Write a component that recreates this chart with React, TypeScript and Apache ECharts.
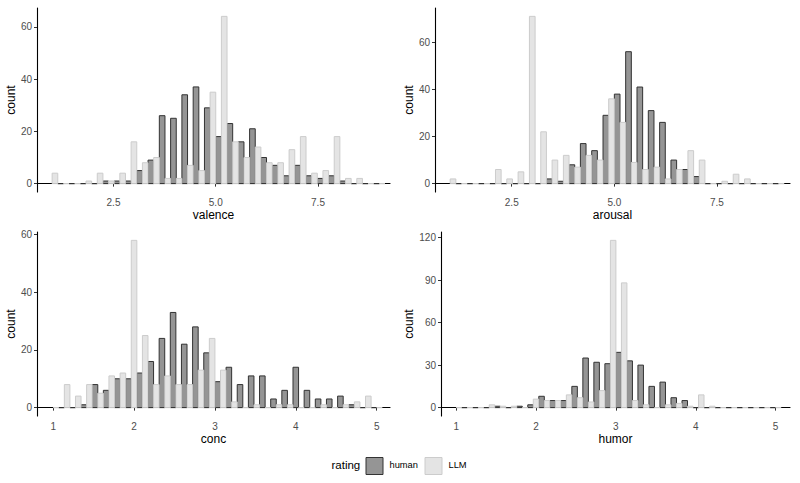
import React, { useEffect, useRef } from "react";
import * as echarts from "echarts";

// Histogram counts per bin (30 bins spanning the rating range), dodged by rater.
// The first human bin has no bar.
const BIN_COUNT = 30;

const VALENCE_RANGE = [1, 9];
const VALENCE_HUMAN = [null, 0, 0, 0, 0, 1, 1, 1, 5, 9, 26, 25, 34, 37, 29, 18, 23, 16, 21, 10, 7, 3, 7, 3, 2, 3, 1, 0, 0, 0];
const VALENCE_LLM = [4, 0, 0, 1, 4, 1, 4, 16, 8, 10, 2, 2, 7, 5, 35, 64, 16, 10, 14, 8, 8, 13, 18, 4, 5, 18, 2, 2, 0, 0];

const AROUSAL_RANGE = [1, 9];
const AROUSAL_HUMAN = [null, 0, 0, 0, 0, 0, 0, 0, 0, 2, 1, 8, 17, 14, 29, 38, 56, 41, 31, 26, 10, 6, 3, 0, 0, 0, 0, 0, 0, 0];
const AROUSAL_LLM = [2, 0, 0, 0, 6, 2, 5, 71, 22, 10, 12, 7, 12, 10, 36, 26, 9, 6, 7, 2, 6, 14, 10, 0, 1, 4, 2, 0, 0, 0];

const CONC_RANGE = [1, 5];
const CONC_HUMAN = [null, 0, 0, 1, 8, 6, 10, 10, 12, 16, 24, 33, 22, 28, 19, 9, 14, 8, 11, 11, 3, 6, 14, 6, 3, 3, 4, 1, 0, 0];
const CONC_LLM = [0, 8, 4, 8, 5, 11, 12, 58, 25, 8, 11, 8, 8, 13, 24, 13, 2, 0, 1, 0, 1, 1, 0, 0, 1, 0, 1, 2, 4, 0];

const HUMOR_RANGE = [1, 5];
const HUMOR_HUMAN = [null, 0, 0, 0, 1, 0, 1, 2, 8, 5, 5, 15, 35, 32, 31, 39, 33, 30, 15, 18, 7, 5, 0, 0, 0, 0, 0, 0, 0, 0];
const HUMOR_LLM = [0, 0, 0, 2, 1, 1, 0, 6, 5, 5, 9, 7, 4, 12, 118, 88, 5, 2, 0, 2, 3, 1, 9, 1, 0, 0, 0, 0, 0, 0];

// Tick labels
const X_TICKS_NINE = [2.5, 5, 7.5];
const X_TICKS_FIVE = [1, 2, 3, 4, 5];
const Y_TICKS_60 = [0, 20, 40, 60];
const Y_TICKS_120 = [0, 30, 60, 90, 120];

const GROUPS = ["human", "LLM"];

const FONT = "'Liberation Sans', Arial, Helvetica, sans-serif";
const HUMAN_FILL = "#959595";
const HUMAN_STROKE = "#333333";
const LLM_FILL = "#e4e4e4";
const LLM_STROKE = "#cccccc";

type Panel = {
  title: string;
  range: number[];
  human: (number | null)[];
  llm: (number | null)[];
  xTicks: number[];
  yTicks: number[];
  xDecimals: number;
  xMin: number;
  xMax: number;
  grid: { left: number; top: number; width: number; height: number };
};

const PANELS: Panel[] = [
  {
    title: "valence", range: VALENCE_RANGE, human: VALENCE_HUMAN, llm: VALENCE_LLM,
    xTicks: X_TICKS_NINE, yTicks: Y_TICKS_60, xDecimals: 1, xMin: 0.63, xMax: 9.26,
    grid: { left: 37, top: 8, width: 353, height: 184 },
  },
  {
    title: "arousal", range: AROUSAL_RANGE, human: AROUSAL_HUMAN, llm: AROUSAL_LLM,
    xTicks: X_TICKS_NINE, yTicks: Y_TICKS_60, xDecimals: 1, xMin: 0.63, xMax: 9.28,
    grid: { left: 435, top: 8, width: 355, height: 184 },
  },
  {
    title: "conc", range: CONC_RANGE, human: CONC_HUMAN, llm: CONC_LLM,
    xTicks: X_TICKS_FIVE, yTicks: Y_TICKS_60, xDecimals: 0, xMin: 0.8, xMax: 5.165,
    grid: { left: 37, top: 232, width: 353, height: 184 },
  },
  {
    title: "humor", range: HUMOR_RANGE, human: HUMOR_HUMAN, llm: HUMOR_LLM,
    xTicks: X_TICKS_FIVE, yTicks: Y_TICKS_120, xDecimals: 0, xMin: 0.81, xMax: 5.18,
    grid: { left: 441, top: 232, width: 349, height: 184 },
  },
];

function binData(range: number[], counts: (number | null)[]) {
  const width = (range[1] - range[0]) / (BIN_COUNT - 1);
  const out: number[][] = [];
  counts.forEach((c, k) => {
    if (c === null) return;
    out.push([range[0] + k * width, c]);
  });
  return out;
}

function barRenderer(from: number, to: number, fill: string, stroke: string) {
  return (_params: any, api: any) => {
    const center = api.value(0);
    const count = api.value(1);
    const a = api.coord([center + from, 0]);
    const b = api.coord([center + to, count]);
    return {
      type: "rect",
      shape: { x: a[0], y: b[1], width: b[0] - a[0], height: a[1] - b[1] },
      style: { fill, stroke, lineWidth: 1 },
    };
  };
}

function buildOption() {
  const grid: any[] = [];
  const xAxis: any[] = [];
  const yAxis: any[] = [];
  const series: any[] = [];

  PANELS.forEach((p, i) => {
    grid.push({ ...p.grid, containLabel: false });
    const maxCount = Math.max(
      ...p.human.map((v) => v ?? 0),
      ...p.llm.map((v) => v ?? 0)
    );
    xAxis.push({
      type: "value",
      gridIndex: i,
      min: p.xMin,
      max: p.xMax,
      name: p.title,
      nameLocation: "middle",
      nameGap: 17,
      nameTextStyle: { color: "#000", fontSize: 12, fontFamily: FONT },
      axisLine: { lineStyle: { color: "#000", width: 1.1 } },
      axisTick: { customValues: p.xTicks, length: 3, lineStyle: { color: "#333", width: 1 } },
      axisLabel: {
        customValues: p.xTicks,
        margin: 5,
        color: "#4d4d4d",
        fontSize: 10,
        fontFamily: FONT,
        formatter: (v: number) => v.toFixed(p.xDecimals),
      },
      splitLine: { show: false },
    });
    yAxis.push({
      type: "value",
      gridIndex: i,
      min: -0.05 * maxCount,
      max: 1.05 * maxCount,
      name: "count",
      nameLocation: "middle",
      nameRotate: 90,
      nameGap: i === 3 ? 24 : 20,
      nameTextStyle: { color: "#000", fontSize: 12, fontFamily: FONT },
      axisLine: { show: true, lineStyle: { color: "#000", width: 1.1 } },
      axisTick: { show: true, customValues: p.yTicks, length: 3, lineStyle: { color: "#333", width: 1 } },
      axisLabel: {
        customValues: p.yTicks,
        margin: 5,
        color: "#4d4d4d",
        fontSize: 10,
        fontFamily: FONT,
      },
      splitLine: { show: false },
    });

    const w = (p.range[1] - p.range[0]) / (BIN_COUNT - 1);
    series.push({
      type: "custom",
      name: GROUPS[0],
      xAxisIndex: i,
      yAxisIndex: i,
      encode: { x: 0, y: 1 },
      data: binData(p.range, p.human),
      renderItem: barRenderer(-w / 2, 0, HUMAN_FILL, HUMAN_STROKE),
      clip: false,
    });
    series.push({
      type: "custom",
      name: GROUPS[1],
      xAxisIndex: i,
      yAxisIndex: i,
      encode: { x: 0, y: 1 },
      data: binData(p.range, p.llm),
      renderItem: barRenderer(0, w / 2, LLM_FILL, LLM_STROKE),
      clip: false,
    });
  });

  const legendY = 466;
  const graphic = [
    {
      type: "text", left: 331.5, top: legendY - 7,
      style: { text: "rating", fontSize: 11.5, fontFamily: FONT, fill: "#000" },
    },
    {
      type: "rect", shape: { x: 366, y: legendY - 8.5, width: 17, height: 17 },
      style: { fill: HUMAN_FILL, stroke: HUMAN_STROKE, lineWidth: 1 },
    },
    {
      type: "text", left: 389.5, top: legendY - 5.5,
      style: { text: GROUPS[0], fontSize: 9.3, fontFamily: FONT, fill: "#000" },
    },
    {
      type: "rect", shape: { x: 425, y: legendY - 8.5, width: 17, height: 17 },
      style: { fill: LLM_FILL, stroke: LLM_STROKE, lineWidth: 1 },
    },
    {
      type: "text", left: 448.5, top: legendY - 5.5,
      style: { text: GROUPS[1], fontSize: 9.3, fontFamily: FONT, fill: "#000" },
    },
  ];

  return {
    animation: false,
    backgroundColor: "#ffffff",
    grid,
    xAxis,
    yAxis,
    series,
    graphic,
  };
}

export default function App() {
  const ref = useRef<HTMLDivElement>(null);

  useEffect(() => {
    document.body.style.margin = "0";
    if (!ref.current) return;
    const chart = echarts.init(ref.current, undefined, { renderer: "svg" });
    chart.setOption(buildOption() as any);
    return () => chart.dispose();
  }, []);

  return <div ref={ref} style={{ width: 800, height: 483 }} />;
}
